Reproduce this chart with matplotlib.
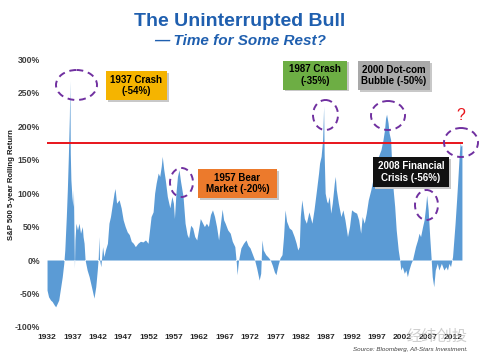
import matplotlib
matplotlib.use('Agg')
import matplotlib.pyplot as plt
from matplotlib.patches import Rectangle, Ellipse

plt.rcParams['font.family'] = ['Liberation Sans', 'DejaVu Sans']

# S&P 500 5-year rolling return (%)
years = [1932.0, 1932.3, 1932.7, 1933.0, 1933.4, 1933.7, 1934.0, 1934.3, 1934.6, 1935.0,
         1935.3, 1935.5, 1935.8, 1936.0, 1936.2, 1936.4, 1936.5, 1936.58, 1936.7, 1936.9,
         1937.1, 1937.2, 1937.3, 1937.4, 1937.5, 1937.7, 1938.0, 1938.3, 1938.6, 1938.95,
         1939.1, 1939.3, 1939.5, 1939.9, 1940.3, 1940.6, 1940.9, 1941.25, 1941.6, 1941.9,
         1942.1, 1942.2, 1942.35, 1942.6, 1942.95, 1943.2, 1943.5, 1943.9, 1944.2, 1944.5,
         1944.9, 1945.2, 1945.4, 1945.7, 1946.2, 1946.6, 1947.0, 1947.4, 1947.8, 1948.2,
         1948.6, 1949.0, 1949.4, 1949.9, 1950.4, 1950.9, 1951.4, 1951.9, 1952.2, 1952.5,
         1952.9, 1953.2, 1953.5, 1953.9, 1954.2, 1954.5, 1954.7, 1955.0, 1955.3, 1955.7,
         1956.2, 1956.6, 1956.9, 1957.1, 1957.4, 1957.7, 1958.0, 1958.3, 1958.8, 1959.2,
         1959.6, 1959.9, 1960.3, 1960.7, 1961.1, 1961.5, 1961.9, 1962.2, 1962.6, 1963.0,
         1963.4, 1963.8, 1964.2, 1964.6, 1965.0, 1965.4, 1965.8, 1966.1, 1966.5, 1966.8,
         1967.1, 1967.6, 1968.1, 1968.5, 1969.0, 1969.3, 1969.45, 1969.7, 1970.2, 1970.7,
         1971.2, 1971.6, 1972.0, 1972.5, 1972.9, 1973.3, 1973.8, 1974.1, 1974.35, 1974.6,
         1975.1, 1975.6, 1976.0, 1976.4, 1976.8, 1977.1, 1977.5, 1977.9, 1978.3, 1978.6,
         1978.9, 1979.2, 1979.7, 1980.2, 1980.7, 1981.1, 1981.4, 1981.7, 1981.9, 1982.2,
         1982.7, 1983.1, 1983.6, 1984.2, 1984.6, 1985.1, 1985.5, 1985.7, 1986.0, 1986.3,
         1986.5, 1986.6, 1986.8, 1987.1, 1987.3, 1987.6, 1987.9, 1988.2, 1988.6, 1988.8,
         1989.0, 1989.4, 1989.9, 1990.3, 1990.7, 1991.2, 1991.6, 1992.0, 1992.5, 1993.0,
         1993.4, 1993.8, 1994.1, 1994.5, 1994.9, 1995.3, 1995.8, 1996.2, 1996.8, 1997.3,
         1997.8, 1998.2, 1998.5, 1998.7, 1998.9, 1999.2, 1999.4, 1999.7, 1999.9, 2000.2,
         2000.5, 2000.8, 2001.2, 2001.5, 2001.7, 2002.0, 2002.4, 2002.7, 2003.0, 2003.3,
         2003.7, 2004.0, 2004.3, 2004.6, 2005.0, 2005.3, 2005.6, 2006.0, 2006.3, 2006.6,
         2006.8, 2007.1, 2007.4, 2007.7, 2007.9, 2008.2, 2008.5, 2008.9, 2009.2, 2009.7,
         2010.2, 2010.6, 2010.9, 2011.2, 2011.5, 2011.9, 2012.1, 2012.4, 2012.7, 2012.9,
         2013.2, 2013.4, 2013.6, 2013.75]
returns = [-45, -55, -60, -62, -67, -70, -65, -60, -45, -25,
           -5, 15, 65, 105, 155, 215, 268, 160, 120, 95,
           80, 105, 45, -12, 30, 55, 45, 55, 40, 50,
           35, 25, 0, -15, -25, -35, -45, -57, -40, -15,
           5, 35, 0, -10, 20, 5, 15, 25, 55, 65,
           85, 100, 107, 85, 90, 78, 60, 50, 42, 38,
           28, 25, 20, 25, 28, 27, 30, 25, 45, 65,
           72, 100, 115, 130, 125, 140, 155, 135, 120, 95,
           78, 95, 85, 62, 100, 125, 135, 118, 95, 55,
           38, 33, 52, 48, 35, 30, 48, 62, 56, 50,
           55, 50, 68, 75, 65, 50, 30, 50, 76, 60,
           55, 45, 40, 28, 20, -5, -22, -2, 18, 25,
           30, 22, 18, 8, 0, -12, -30, -20, 30, 15,
           8, 4, 0, -8, -18, -22, -8, 3, 8, 35,
           75, 58, 48, 45, 35, 25, 15, 20, 65, 90,
           62, 55, 72, 55, 75, 105, 130, 145, 155, 180,
           230, 160, 100, 88, 85, 95, 70, 85, 115, 125,
           105, 85, 65, 75, 60, 35, 50, 75, 72, 70,
           60, 40, 65, 55, 70, 90, 105, 120, 135, 155,
           165, 180, 195, 212, 218, 205, 190, 180, 145, 105,
           80, 45, 15, 0, -15, -10, -20, -15, -25, -15,
           -5, 0, 10, 20, 30, 40, 35, 50, 60, 80,
           97, 75, 35, 0, -25, -40, -15, -5, -15, -5,
           -15, -10, -15, -5, -10, 5, 25, 55, 90, 115,
           155, 175, 170, 172]

threshold = 175
xticks = list(range(1932, 2013, 5))
yticks = [-100, -50, 0, 50, 100, 150, 200, 250, 300]

# annotation boxes: text, centre (px), size (px), face colour, text colour
boxes = [
    ('1937 Crash\n(-54%)', (136.5, 85.5), (61, 29), '#F5B400', 'black'),
    ('1957 Bear\nMarket (-20%)', (237.5, 183.5), (79, 29), '#EC7A2C', 'black'),
    ('1987 Crash\n(-35%)', (315, 75), (64, 29), '#6DAE44', 'black'),
    ('2000 Dot-com\nBubble (-50%)', (394, 75.5), (72, 29), '#A9A9A9', 'black'),
    ('2008 Financial\nCrisis (-56%)', (411, 172), (76, 30), '#111111', 'white'),
]
# dashed circles: centre (px), size (px)
circles = [((76.5, 85), (41, 30)), ((181.5, 182.5), (23, 29)), ((325.5, 115), (25, 30)),
           ((388, 115.5), (34, 29)), ((426.5, 205), (23, 30)), ((461, 142.5), (34, 29))]

fig = plt.figure(figsize=(4.8, 3.6), dpi=100)
ax = fig.add_axes([0.098, 0.092, 0.867, 0.743])

ax.fill_between(years, returns, 0, color='#5B9BD5', lw=0)
ax.axhline(threshold, color='#E8141B', lw=1.4)

ax.set_xlim(1932, 2014)
ax.set_ylim(-100, 300)
ax.set_xticks(xticks)
ax.set_yticks(yticks)
ax.set_yticklabels([f'{v}%' for v in yticks])
ax.tick_params(length=0)
ax.tick_params(axis='y', pad=5, labelsize=6.2, labelcolor='#404040')
ax.tick_params(axis='x', pad=5, labelsize=6, labelcolor='#262626')
for lbl in ax.get_xticklabels() + ax.get_yticklabels():
    lbl.set_fontweight('bold')
for s in ax.spines.values():
    s.set_visible(False)

fig.text(12 / 480, 1 - 185 / 360, 'S&P 500 5-year Rolling Return', rotation=90,
         ha='center', va='center', fontsize=5.6, fontweight='bold', color='#1a1a1a')

fig.text(0.5, 1 - 21 / 360, 'The Uninterrupted Bull', ha='center', va='center',
         fontsize=14, fontweight='bold', color='#1F5FAF')
fig.text(0.5, 1 - 41 / 360, '\u2014 Time for Some Rest?', ha='center', va='center',
         fontsize=11, fontweight='bold', style='italic', color='#1F5FAF')

# overlay in pixel coordinates for the callouts
ov = fig.add_axes([0, 0, 1, 1])
ov.set_xlim(0, 480)
ov.set_ylim(360, 0)
ov.axis('off')

for text, (cx, cy), (w, h), fc, tc in boxes:
    ov.add_patch(Rectangle((cx - w / 2 + 1.5, cy - h / 2 + 1.5), w, h, fc='#c8c8c8', ec='none'))
    ov.add_patch(Rectangle((cx - w / 2, cy - h / 2), w, h, fc=fc, ec='none'))
    ov.text(cx, cy, text, ha='center', va='center', fontsize=7, fontweight='bold',
            color=tc, linespacing=1.2)

for (cx, cy), (w, h) in circles:
    ov.add_patch(Ellipse((cx, cy), w, h, fill=False, ec='#7030A0', lw=1.4,
                         linestyle=(0, (3.5, 2.5))))

ov.text(461, 115, '?', ha='center', va='center', fontsize=11.5, color='#E8141B')

ov.text(468, 350, 'Source: Bloomberg, All-Stars Investment.', ha='right', va='center',
        fontsize=4.5, style='italic', color='#404040')
ov.text(437, 336, '经纬创投', ha='center', va='center', fontsize=11, color='#BBBBBB',
        alpha=0.7, family=['Noto Sans CJK SC', 'DejaVu Sans'])

fig.savefig('out.png', dpi=100)
